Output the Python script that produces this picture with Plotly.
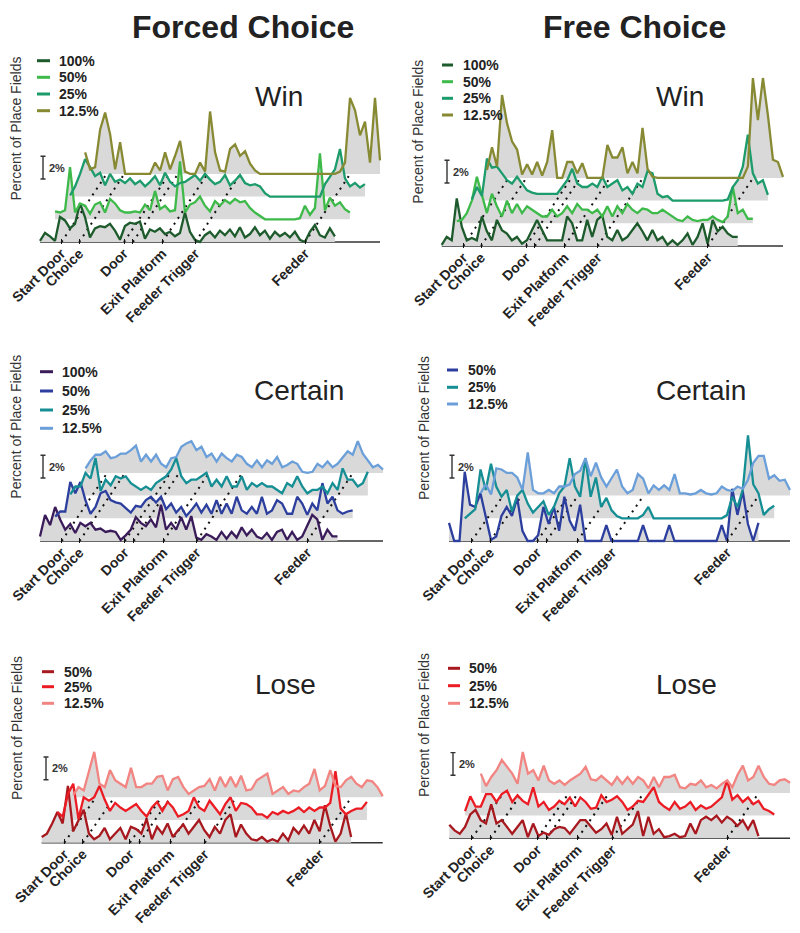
import plotly.graph_objects as go

# ---------------- data (percent of place fields above each trace's own baseline) -------------
EVENTS = [0.073, 0.133, 0.285, 0.315, 0.415, 0.527, 0.899]
EVENT_LABELS = ["Start Door", "Choice", "Door", "", "Exit Platform", "Feeder Trigger", "Feeder"]

WIN_LEVELS = ["100%", "50%", "25%", "12.5%"]
CERTAIN_FORCED_LEVELS = ["100%", "50%", "25%", "12.5%"]
CERTAIN_FREE_LEVELS = ["50%", "25%", "12.5%"]
LOSE_LEVELS = ["50%", "25%", "12.5%"]

FORCED_WIN_100 = [0.1, 0.8, 0.5, 0.1, 2.2, 1.9, 1.2, 1.6, 3.4, 2.2,
                  0.4, 1.2, 1.4, 1.3, 1.6, 1.0, 0.2, 1.4, 1.7, 1.6,
                  1.8, 0.3, 1.1, 0.9, 1.2, 0.7, 0.9, 0.5, 0.8, 2.6,
                  0.9, 0.2, 0.0, 0.6, 0.9, 0.4, 1.0, 0.6, 1.1, 0.5,
                  1.3, 0.4, 0.7, 1.3, 0.6, 1.0, 0.3, 0.9, 0.5, 0.8,
                  0.4, 0.9, 0.2, 0.0, 0.9, 1.5, 0.6, 0.4, 1.2, 0.5]
FORCED_WIN_50 = [0.7, 0.6, 0.8, 4.6, 0.6, 1.4, 1.2, 0.5, 1.3, 1.5,
                 0.6, 1.8, 1.4, 0.8, 0.6, 0.6, 0.7, 0.6, 1.3, 0.8,
                 2.5, 0.9, 1.2, 0.7, 0.8, 5.1, 0.6, 1.3, 1.5, 2.0,
                 1.2, 0.7, 1.6, 1.2, 1.7, 1.4, 1.8, 1.5, 1.6, 1.0,
                 0.6, 0.3, 0.0, 0.0, 0.0, 0.0, 0.0, 0.0, 0.0, 0.1,
                 1.2, 0.4, 1.0, 5.8, 0.8, 1.9, 1.2, 1.5, 0.9, 0.6]
FORCED_WIN_25 = [0.1, 0.9, 2.0, 3.3, 2.6, 1.8, 2.1, 1.0, 2.0, 1.3,
                 1.5, 1.2, 1.6, 1.1, 1.4, 0.9, 1.3, 1.8, 1.0, 2.1,
                 1.3, 0.9, 1.2, 1.3, 1.6, 1.9, 1.4, 2.0, 1.5, 1.1,
                 1.3, 1.9, 1.0, 1.4, 1.9, 1.2, 1.0, 1.1, 0.9, 0.3,
                 0.0, 0.0, 0.0, 0.0, 0.0, 0.0, 0.0, 0.0, 0.0, 0.0,
                 0.0, 1.1, 1.8, 2.4, 4.2, 1.6, 0.9, 1.2, 0.8, 1.1]
FORCED_WIN_125 = [1.9, 0.4, 0.6, 3.9, 5.4, 3.5, 0.4, 2.8, 0.0, 0.0,
                  0.0, 0.0, 0.0, 0.0, 1.0, 0.3, 1.9, 0.4, 1.6, 2.9,
                  0.2, 0.0, 0.0, 1.0, 0.2, 5.5, 1.9, 0.3, 0.2, 2.2,
                  2.6, 1.6, 2.0, 0.9, 0.3, 0.0, 0.0, 0.0, 0.0, 0.0,
                  0.0, 0.0, 0.0, 0.0, 0.0, 0.0, 0.0, 0.0, 0.0, 0.0,
                  0.0, 0.2, 1.0, 6.7, 5.6, 3.4, 4.6, 1.0, 6.7, 1.2]

FREE_WIN_100 = [0.1, 0.8, 0.5, 4.2, 1.7, 0.5, 0.7, 0.5, 2.6, 1.3,
                0.5, 2.3, 1.4, 1.1, 0.5, 0.8, 0.2, 0.5, 1.4, 2.3,
                1.4, 0.5, 0.5, 0.5, 0.5, 2.6, 2.0, 0.5, 0.5, 2.3,
                0.8, 2.3, 2.7, 0.8, 0.5, 1.4, 0.5, 0.8, 1.4, 2.0,
                1.3, 0.5, 1.4, 0.5, 0.8, 0.1, 0.5, 0.1, 0.5, 1.1,
                0.1, 0.8, 2.0, 0.2, 2.3, 1.3, 1.7, 1.1, 0.8, 0.8]
FREE_WIN_50 = [0.2, 0.3, 0.9, 2.0, 4.1, 2.4, 0.9, 2.6, 1.5, 0.6,
               2.0, 0.9, 1.7, 0.9, 1.5, 1.2, 0.9, 0.6, 0.6, 1.2,
               0.6, 0.9, 1.5, 0.9, 1.7, 1.2, 1.2, 0.9, 1.2, 0.6,
               1.5, 0.6, 1.5, 0.9, 1.7, 1.2, 0.9, 1.3, 1.2, 0.9,
               0.9, 1.2, 0.9, 0.6, 0.3, 0.2, 0.6, 0.3, 0.2, 0.3,
               0.3, 0.6, 0.3, 0.1, 0.6, 3.2, 0.9, 1.2, 0.4, 0.4]
FREE_WIN_25 = [0.1, 1.2, 0.4, 3.7, 2.9, 3.0, 2.4, 1.8, 1.5, 2.1,
               1.5, 0.9, 0.7, 0.6, 0.6, 0.6, 0.6, 0.6, 1.2, 1.8,
               2.8, 1.5, 1.2, 1.2, 1.5, 1.2, 2.1, 1.2, 1.5, 1.8,
               0.9, 1.2, 0.6, 1.5, 1.2, 2.6, 2.4, 0.6, 0.3, 0.4,
               0.0, 0.0, 0.0, 0.0, 0.0, 0.0, 0.0, 0.0, 0.0, 0.0,
               0.0, 0.1, 1.2, 1.8, 3.0, 5.8, 2.4, 1.5, 1.8, 0.5]
FREE_WIN_125 = [0.7, 2.7, 1.0, 7.3, 4.8, 3.2, 2.5, 0.3, 1.2, 0.3,
                1.4, 0.2, 1.4, 4.2, 0.0, 0.0, 1.4, 1.4, 0.4, 1.3,
                0.0, 0.0, 0.0, 0.0, 2.9, 1.8, 1.8, 2.7, 0.4, 1.4,
                0.4, 4.4, 0.8, 0.1, 0.0, 0.0, 0.0, 0.0, 0.0, 0.0,
                0.0, 0.0, 0.0, 0.0, 0.0, 0.0, 0.0, 0.0, 0.0, 0.0,
                0.0, 0.0, 1.0, 8.8, 5.1, 8.8, 5.5, 1.6, 1.4, 0.1]

FORCED_CERTAIN_100 = [0.4, 2.3, 1.4, 3.0, 1.9, 1.0, 1.5, 0.7, 1.6, 1.3,
                      1.6, 1.0, 1.1, 0.8, 0.9, 0.8, 0.1, 0.5, 1.0, 2.1,
                      1.6, 1.3, 1.9, 1.2, 3.2, 1.0, 1.6, 1.0, 2.1, 1.0,
                      2.2, 0.3, 0.1, 0.6, 0.4, 0.1, 0.8, 0.2, 0.8, 0.3,
                      1.2, 0.5, 1.0, 0.4, 0.2, 0.7, 0.1, 0.8, 1.0, 0.1,
                      0.8, 0.1, 0.4, 1.3, 2.3, 1.9, 0.1, 1.0, 0.4, 0.4]
FORCED_CERTAIN_50 = [0.15, 0.6, 0.6, 3.2, 2.2, 3.2, 1.6, 0.4, 1.0, 2.2,
                     2.4, 1.6, 1.4, 1.3, 0.9, 0.5, 1.1, 1.0, 1.6, 1.9,
                     1.4, 1.9, 0.8, 1.3, 0.5, 1.0, 0.2, 0.7, 1.3, 0.5,
                     1.2, 0.4, 1.6, 0.4, 1.3, 0.4, 1.9, 0.7, 0.4, 1.0,
                     0.4, 1.9, 0.4, 0.7, 1.6, 1.3, 0.4, 0.4, 1.9, 1.3,
                     0.3, 1.3, 0.7, 3.1, 1.3, 1.9, 0.7, 0.4, 0.6, 0.7]
FORCED_CERTAIN_25 = [0.1, 0.8, 0.8, 2.0, 1.5, 3.3, 0.4, 1.4, 0.9, 1.7,
                     1.5, 1.7, 1.1, 0.8, 0.5, 0.8, 0.5, 1.1, 1.4, 1.7,
                     2.3, 3.3, 1.7, 1.1, 1.4, 1.4, 1.7, 2.0, 0.8, 1.4,
                     0.8, 1.7, 0.8, 0.8, 1.7, 0.5, 1.1, 0.8, 1.1, 0.8,
                     0.8, 0.5, 0.2, 1.1, 0.8, 1.7, 0.8, 0.2, 0.5, 0.5,
                     0.8, 0.2, 1.1, 0.5, 2.4, 1.4, 1.4, 0.8, 1.1, 2.1]
FORCED_CERTAIN_125 = [0.4, 1.1, 1.6, 1.6, 1.9, 1.3, 1.4, 1.7, 1.7, 2.0,
                      2.4, 1.0, 1.6, 1.0, 1.6, 0.8, 0.5, 1.3, 1.4, 2.3,
                      2.6, 2.8, 2.0, 2.3, 1.4, 1.7, 1.0, 1.7, 1.3, 1.0,
                      1.6, 1.4, 0.8, 0.5, 1.1, 0.5, 1.1, 0.8, 1.4, 0.5,
                      0.7, 1.0, 0.8, 0.1, 0.0, 0.1, 0.8, 0.5, 1.0, 0.5,
                      0.8, 1.3, 1.9, 1.6, 2.8, 1.7, 1.1, 0.5, 0.7, 0.3]

FREE_CERTAIN_50 = [1.6, 0.0, 0.0, 6.1, 3.2, 3.0, 4.2, 2.0, 0.1, 0.4,
                   2.2, 3.0, 2.2, 3.8, 0.9, 0.0, 0.0, 0.5, 3.0, 1.5,
                   3.0, 0.9, 3.9, 1.8, 0.9, 3.2, 0.0, 0.0, 0.0, 0.0,
                   1.4, 0.0, 0.0, 0.0, 0.0, 0.0, 0.0, 1.4, 0.0, 0.0,
                   0.0, 0.0, 1.4, 0.0, 0.0, 0.0, 0.0, 0.0, 0.0, 0.0,
                   0.0, 0.0, 1.4, 0.0, 4.6, 2.3, 4.4, 1.5, 0.0, 1.6]
FREE_CERTAIN_25 = [0.0, 0.4, 0.8, 4.3, 2.5, 4.8, 2.8, 1.9, 2.5, 0.6,
                   2.0, 2.5, 1.3, 0.5, 1.0, 1.5, 0.3, 1.0, 2.2, 2.8,
                   5.3, 2.8, 1.9, 5.3, 1.9, 3.6, 1.0, 1.8, 0.7, 0.2,
                   0.0, 0.0, 0.0, 0.0, 0.3, 1.0, 0.0, 0.0, 0.0, 0.0,
                   0.0, 0.0, 0.0, 0.0, 0.0, 0.0, 0.0, 0.0, 0.0, 0.0,
                   0.3, 1.9, 1.0, 2.5, 7.3, 3.0, 2.2, 0.3, 0.8, 1.1]
FREE_CERTAIN_125 = [0.2, 1.0, 0.1, 2.4, 2.3, 2.0, 2.0, 1.6, 0.5, 3.8,
                    0.5, 0.2, 0.2, 0.5, 0.2, 0.8, 0.8, 1.0, 1.9, 2.2,
                    3.3, 1.7, 2.9, 1.6, 0.8, 1.6, 2.3, 0.8, 0.2, 0.5,
                    1.9, 1.5, 0.2, 0.9, 0.5, 0.9, 0.5, 1.9, 0.2, 0.2,
                    0.1, 0.2, 0.5, 0.2, 0.1, 0.2, 0.8, 0.5, 0.4, 0.8,
                    0.6, 1.4, 2.9, 3.5, 3.5, 1.5, 1.8, 1.3, 1.4, 0.5]

FORCED_LOSE_50 = [0.5, 0.8, 1.7, 2.7, 1.7, 5.0, 1.0, 2.0, 2.9, 0.8,
                  0.3, 0.6, 1.3, 0.3, 0.8, 1.3, 0.3, 1.4, 1.2, 0.8,
                  2.1, 0.3, 1.4, 0.8, 1.7, 0.5, 1.1, 1.6, 0.8, 1.4,
                  2.0, 1.1, 0.5, 1.4, 0.8, 2.0, 2.5, 0.5, 1.6, 0.8,
                  0.3, 0.2, 0.5, 0.1, 0.3, 0.1, 0.8, 0.2, 1.3, 0.8,
                  1.5, 0.8, 2.0, 1.0, 3.3, 1.5, 0.1, 0.8, 2.6, 0.5]
FORCED_LOSE_25 = [0.7, 0.3, 2.3, 3.2, 0.1, 2.0, 1.7, 2.0, 3.0, 1.8,
                  0.8, 1.5, 1.1, 0.8, 1.1, 1.4, 0.8, 0.3, 1.1, 1.6,
                  0.8, 1.6, 1.1, 0.3, 0.5, 0.8, 2.0, 1.1, 0.8, 1.7,
                  1.1, 0.5, 1.4, 2.0, 0.8, 1.5, 1.4, 1.1, 0.5, 0.5,
                  0.2, 0.7, 0.5, 0.8, 0.6, 0.8, 1.1, 0.7, 1.1, 0.8,
                  1.1, 1.1, 1.5, 4.3, 1.0, 0.5, 0.8, 1.0, 1.0, 1.6]
FORCED_LOSE_125 = [0.2, 0.9, 0.6, 2.4, 4.0, 1.2, 0.9, 2.4, 1.5, 1.2,
                   0.9, 2.6, 0.9, 0.9, 1.2, 1.2, 1.8, 1.9, 0.6, 1.6,
                   1.8, 0.9, 0.3, 0.6, 0.9, 1.0, 1.6, 0.6, 1.8, 0.9,
                   1.8, 0.9, 1.9, 0.6, 0.7, 1.5, 1.8, 2.1, 0.3, 0.6,
                   0.9, 0.3, 0.6, 0.5, 0.9, 1.2, 2.5, 0.6, 1.0, 2.4,
                   1.0, 0.9, 1.5, 1.8, 1.2, 0.9, 1.5, 1.4, 0.9, 0.1]

FREE_LOSE_50 = [1.2, 0.7, 0.4, 1.0, 2.1, 2.5, 1.6, 1.3, 3.0, 1.3,
                1.6, 1.0, 0.4, 1.0, 1.6, 0.1, 1.3, 0.2, 0.5, 0.3,
                0.8, 1.0, 0.9, 0.4, 1.0, 1.6, 1.6, 1.0, 0.5, 0.8,
                1.3, 0.3, 1.9, 0.4, 0.8, 1.2, 2.4, 0.2, 1.9, 0.4,
                0.8, 0.1, 0.2, 0.4, 0.1, 0.2, 1.3, 0.4, 1.6, 1.9,
                1.6, 2.0, 1.4, 1.9, 1.6, 1.1, 1.6, 0.8, 1.6, 0.2]
FREE_LOSE_25 = [0.4, 1.7, 0.8, 0.8, 1.9, 1.9, 1.2, 1.9, 2.2, 1.2,
                1.8, 1.3, 1.0, 2.5, 0.8, 1.2, 0.5, 0.8, 1.3, 1.0,
                1.6, 0.8, 1.6, 1.2, 0.6, 0.7, 1.8, 1.2, 1.4, 1.7,
                1.2, 0.5, 0.8, 1.3, 1.2, 1.8, 2.5, 1.2, 0.8, 0.5,
                1.2, 0.6, 0.8, 1.2, 0.5, 0.9, 0.6, 0.8, 1.2, 1.6,
                3.1, 1.4, 1.8, 1.2, 1.6, 1.0, 1.3, 0.6, 0.4, 0.1]
FREE_LOSE_125 = [1.7, 0.6, 1.4, 2.0, 2.9, 2.3, 1.7, 0.8, 3.6, 1.7,
                 2.0, 1.1, 2.4, 1.1, 0.8, 1.1, 0.7, 1.1, 1.4, 1.7,
                 2.3, 1.2, 1.1, 1.5, 1.1, 0.7, 1.4, 0.8, 1.4, 0.8,
                 1.4, 1.1, 0.4, 1.4, 0.5, 1.4, 1.4, 1.6, 0.5, 0.4,
                 0.8, 0.7, 1.1, 0.5, 0.7, 0.4, 0.8, 1.1, 0.5, 1.6,
                 2.4, 1.1, 1.4, 2.4, 1.4, 0.8, 0.7, 1.1, 1.2, 0.9]

COLUMN_TITLES = ["Forced Choice", "Free Choice"]
Y_TITLE = "Percent of Place Fields"
SCALE_LABEL = "2%"

# ---------------- styles / layout geometry ----------------
FONT = "Liberation Sans, Arial, Helvetica, sans-serif"
W, H = 800, 933
PAGE_OFFSET = 8          # the page body margin shifts the figure by this many pixels
GRAY = "#d9d9d9"
LEVEL_DY = 2.0          # vertical stagger (percent)
LEVEL_DX = 0.051        # horizontal stagger (fraction of track)
PX_PER_PCT = 11.35
Y_TOP = 15.5
Y_BOT = -0.15
SCALE_BAR = (5.55, 7.55)

GREENS = ["#1d5b2c", "#3dba49", "#1c9b6b", "#878a33"]
PURPLES = ["#3b1c5a", "#2c3f9e", "#158e94", "#6b9fd9"]
BLUES3 = ["#2c3f9e", "#158e94", "#6b9fd9"]
REDS = ["#a8191f", "#ec1c24", "#f28482"]

panels = [
    dict(title="Win", levels=WIN_LEVELS, colors=GREENS,
         data=[FORCED_WIN_100, FORCED_WIN_50, FORCED_WIN_25, FORCED_WIN_125],
         x0=40, xend=380, base=242, bar_px=43, title_xy=(279, 96.7), ytitle_xy=(16, 128.5),
         leg_y=[60.7, 77.3, 94.0, 110.7], leg_line=(37, 50), leg_text=57),
    dict(title="Win", levels=WIN_LEVELS, colors=GREENS,
         data=[FREE_WIN_100, FREE_WIN_50, FREE_WIN_25, FREE_WIN_125],
         x0=441.7, xend=783, base=246, bar_px=447, title_xy=(680, 96.7), ytitle_xy=(418, 131.7),
         leg_y=[65.0, 81.7, 98.3, 115.0], leg_line=(442, 453), leg_text=461),
    dict(title="Certain", levels=CERTAIN_FORCED_LEVELS, colors=PURPLES,
         data=[FORCED_CERTAIN_100, FORCED_CERTAIN_50, FORCED_CERTAIN_25, FORCED_CERTAIN_125],
         x0=40, xend=383, base=541, bar_px=43, title_xy=(299, 390), ytitle_xy=(16, 426.7),
         leg_y=[371.7, 391.0, 410.0, 428.3], leg_line=(40, 53), leg_text=60),
    dict(title="Certain", levels=CERTAIN_FREE_LEVELS, colors=BLUES3,
         data=[FREE_CERTAIN_50, FREE_CERTAIN_25, FREE_CERTAIN_125],
         x0=449, xend=790, base=541, bar_px=452, title_xy=(701, 390), ytitle_xy=(424, 428),
         leg_y=[370.0, 387.3, 404.0], leg_line=(447, 458), leg_text=466),
    dict(title="Lose", levels=LOSE_LEVELS, colors=REDS,
         data=[FORCED_LOSE_50, FORCED_LOSE_25, FORCED_LOSE_125],
         x0=41.7, xend=382.7, base=842.7, bar_px=46, title_xy=(285, 684), ytitle_xy=(17, 728),
         leg_y=[671.7, 686.7, 703.3], leg_line=(42, 54), leg_text=62),
    dict(title="Lose", levels=LOSE_LEVELS, colors=REDS,
         data=[FREE_LOSE_50, FREE_LOSE_25, FREE_LOSE_125],
         x0=449.3, xend=790, base=838.3, bar_px=453, title_xy=(686, 684), ytitle_xy=(424, 725),
         leg_y=[668.3, 685.7, 703.3], leg_line=(448, 460), leg_text=467),
]


def px_x(p):
    return (p - PAGE_OFFSET) / W


def px_y(p):
    return 1 - (p - PAGE_OFFSET) / H


fig = go.Figure()
layout = dict(width=W, height=H, margin=dict(l=0, r=0, t=0, b=0, autoexpand=False),
              paper_bgcolor="white", plot_bgcolor="rgba(0,0,0,0)", showlegend=False,
              font=dict(family=FONT, color="#222"))
shapes, annotations = [], []

for j, p in enumerate(panels):
    sfx = "" if j == 0 else str(j + 1)
    xa, ya = "x" + sfx, "y" + sfx
    L = len(p["data"])
    xmax = 1 + (L - 1) * LEVEL_DX
    sx = (p["xend"] - p["x0"]) / xmax

    # axis baseline (covered by the bottom trace's fill where the track runs)
    fig.add_trace(go.Scatter(x=[0, xmax], y=[0, 0], mode="lines", xaxis=xa, yaxis=ya,
                             line=dict(color="#333333", width=1.5), hoverinfo="skip"))
    traces = []
    for i, vals in enumerate(p["data"]):
        n = len(vals)
        xs = [k / (n - 1) + i * LEVEL_DX for k in range(n)]
        ys = [v + i * LEVEL_DY for v in vals]
        traces.append((xs, ys))
        fig.add_trace(go.Scatter(x=xs + [xs[-1], xs[0]], y=ys + [i * LEVEL_DY, i * LEVEL_DY],
                                 mode="lines", fill="toself", fillcolor=GRAY,
                                 line=dict(width=0, color=GRAY), xaxis=xa, yaxis=ya,
                                 hoverinfo="skip"))
    # dotted lines linking each event across the staggered traces
    for e in EVENTS:
        fig.add_trace(go.Scatter(x=[e, e + (L - 1) * LEVEL_DX], y=[0, (L - 1) * LEVEL_DY],
                                 mode="lines", xaxis=xa, yaxis=ya,
                                 line=dict(color="#111111", width=2, dash="2px,5px"),
                                 hoverinfo="skip"))
    for i, (xs, ys) in enumerate(traces):
        fig.add_trace(go.Scatter(x=xs, y=ys, mode="lines", name=p["levels"][i],
                                 xaxis=xa, yaxis=ya,
                                 line=dict(color=p["colors"][i], width=2.3)))

    xr = [-8 / sx, xmax + 4 / sx]
    layout["xaxis" + sfx] = dict(
        domain=[px_x(p["x0"] - 8), px_x(p["xend"] + 4)], range=xr, anchor=ya,
        automargin=False, showgrid=False, zeroline=False, showline=False,
        ticks="inside", ticklen=5, tickwidth=1.2, tickcolor="#111",
        tickmode="array", tickvals=EVENTS, ticktext=EVENT_LABELS, tickangle=-45,
        ticklabelstandoff=-2,
        tickfont=dict(family=FONT, size=14, color="#222", weight="bold"))
    bot_px = p["base"] - Y_BOT * PX_PER_PCT
    top_px = p["base"] - Y_TOP * PX_PER_PCT
    layout["yaxis" + sfx] = dict(domain=[px_y(bot_px), px_y(top_px)], range=[Y_BOT, Y_TOP],
                                 anchor=xa, visible=False, automargin=False)

    # 2% scale bar
    bx = (p["bar_px"] - p["x0"]) / sx
    cap = 2.5 / sx
    y0, y1 = SCALE_BAR
    for seg in [(bx, y0, bx, y1), (bx - cap, y0, bx + cap, y0), (bx - cap, y1, bx + cap, y1)]:
        shapes.append(dict(type="line", xref=xa, yref=ya, x0=seg[0], y0=seg[1], x1=seg[2], y1=seg[3],
                           line=dict(color="#333", width=1.4)))
    annotations.append(dict(x=bx + 4 / sx, y=(y0 + y1) / 2, xref=xa, yref=ya, text=SCALE_LABEL,
                            showarrow=False, xanchor="left", yanchor="middle",
                            font=dict(family=FONT, size=11, color="#333", weight="bold")))

    # legend (short line + label)
    for i, lvl in enumerate(p["levels"]):
        ly = px_y(p["leg_y"][i])
        shapes.append(dict(type="line", xref="paper", yref="paper",
                           x0=px_x(p["leg_line"][0]), x1=px_x(p["leg_line"][1]), y0=ly, y1=ly,
                           line=dict(color=p["colors"][i], width=3)))
        annotations.append(dict(x=px_x(p["leg_text"]), y=ly, xref="paper", yref="paper", text=lvl,
                                showarrow=False, xanchor="left", yanchor="middle",
                                font=dict(family=FONT, size=14, color="#222", weight="bold")))
    # panel title
    annotations.append(dict(x=px_x(p["title_xy"][0]), y=px_y(p["title_xy"][1]), xref="paper",
                            yref="paper", text=p["title"], showarrow=False,
                            xanchor="center", yanchor="middle",
                            font=dict(family=FONT, size=28, color="#222")))
    # y title
    annotations.append(dict(x=px_x(p["ytitle_xy"][0]), y=px_y(p["ytitle_xy"][1]), xref="paper",
                            yref="paper", text=Y_TITLE, showarrow=False, textangle=-90,
                            xanchor="center", yanchor="middle",
                            font=dict(family=FONT, size=14, color="#333")))

# column titles, kept fully inside the figure's top edge
for txt, cx in zip(COLUMN_TITLES, [243, 634]):
    annotations.append(dict(x=px_x(cx), y=1.0, xref="paper", yref="paper", text=txt,
                            showarrow=False, xanchor="center", yanchor="top", borderpad=0,
                            font=dict(family=FONT, size=32, color="#222", weight="bold")))

layout["shapes"] = shapes
layout["annotations"] = annotations
fig.update_layout(**layout)
fig.write_html("out.html")
